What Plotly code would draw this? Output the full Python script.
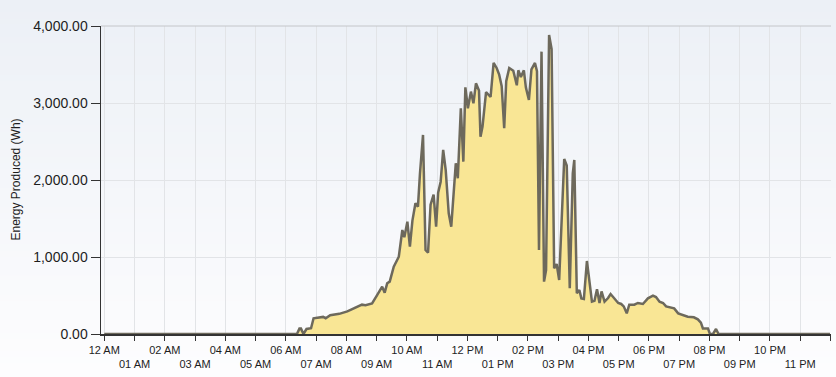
import plotly.graph_objects as go

day = "2024-06-01"

times = [
    "00:00", "06:22", "06:27", "06:30", "06:35", "06:41", "06:50", "06:55",
    "07:14", "07:19", "07:28", "07:46", "08:02", "08:18", "08:31", "08:38",
    "08:49", "08:51", "09:01", "09:11", "09:16", "09:21", "09:26", "09:34",
    "09:44", "09:51", "09:55", "10:01", "10:06", "10:11", "10:17", "10:22",
    "10:26", "10:32", "10:37", "10:42", "10:47", "10:53", "10:58", "11:02",
    "11:07", "11:12", "11:17", "11:23", "11:28", "11:32", "11:37", "11:41",
    "11:47", "11:52", "11:56", "12:01", "12:07", "12:12", "12:17", "12:23",
    "12:26", "12:30", "12:37", "12:46", "12:52", "12:58", "13:03", "13:08",
    "13:13", "13:17", "13:23", "13:31", "13:38", "13:41", "13:46", "13:52",
    "13:56", "14:02", "14:07", "14:14", "14:18", "14:22", "14:27", "14:32",
    "14:36", "14:42", "14:47", "14:52", "14:57", "15:02", "15:12", "15:17",
    "15:23", "15:29", "15:32", "15:37", "15:42", "15:46", "15:51", "15:57",
    "16:02", "16:07", "16:12", "16:17", "16:22", "16:26", "16:32", "16:39",
    "16:44", "16:51", "16:59", "17:05", "17:10", "17:16", "17:21", "17:31",
    "17:38", "17:48", "17:58", "18:08", "18:14", "18:21", "18:28", "18:34",
    "18:44", "18:50", "18:58", "19:07", "19:17", "19:29", "19:37", "19:43",
    "19:47", "19:57", "20:01", "20:07", "20:13", "20:18", "23:59",
]

energy_wh = [
    0, 0, 70, 70, 0, 65, 75, 204,
    222, 205, 245, 262, 294, 338, 381, 375,
    390, 398, 506, 614, 537, 658, 680, 874,
    1004, 1351, 1256, 1459, 1134, 1472, 1697, 1654,
    2087, 2585, 1091, 1056, 1680, 1810, 1394, 1836,
    1978, 2390, 2130, 1568, 1394, 1740, 2217, 2022,
    2932, 2238, 3204, 2932, 3148, 2997, 3256, 3161,
    2563, 2694, 3140, 3078, 3520, 3455, 3369, 3217,
    2672, 3282, 3455, 3420, 3230, 3425, 3338, 3425,
    3200, 3040, 3436, 3520, 3412, 1091, 3667, 680,
    831, 3884, 3700, 853, 909, 702, 2273, 2187,
    593, 2087, 2260, 529, 572, 463, 455, 948,
    658, 420, 430, 580, 403, 554, 420, 467,
    519, 463, 403, 390, 359, 268, 381, 381,
    403, 390, 463, 498, 480, 420, 403, 359,
    346, 333, 268, 247, 225, 217, 190, 147,
    73, 73, 0, 0, 65, 0, 0,
]

hour_ticks = [f"{day} {h:02d}:00" for h in range(24)] + ["2024-06-02 00:00"]
hour_labels = ["12 AM"] + [f"{h:02d} AM" for h in range(1, 12)] + ["12 PM"] + [f"{h:02d} PM" for h in range(1, 12)] + [""]
tick_text = [lab if i % 2 == 0 else "<br>" + lab for i, lab in enumerate(hour_labels)]

y_ticks = [0, 1000, 2000, 3000, 4000]
y_labels = ["0.00", "1,000.00", "2,000.00", "3,000.00", "4,000.00"]

x = [f"{day} {t}" for t in times]

W, H = 836, 377
L, R, T, B = 101, 5, 26, 43
pw, ph = W - L - R, H - T - B

fig = go.Figure()
fig.add_trace(go.Scatter(
    x=x, y=energy_wh, mode="lines", fill="tozeroy",
    line=dict(color="#6d695c", width=2.5),
    fillcolor="#f9e695", hoverinfo="skip", showlegend=False,
))

# background vertical gradient
shapes = []
n = 60
top_c = (236, 240, 246)
bot_c = (253, 253, 254)
y_lo = -B / ph
y_hi = 1 + T / ph
for i in range(n):
    f = i / (n - 1)
    c = tuple(round(top_c[k] + (bot_c[k] - top_c[k]) * f) for k in range(3))
    y1 = y_hi - (y_hi - y_lo) * i / n
    y0 = y_hi - (y_hi - y_lo) * (i + 1) / n
    shapes.append(dict(type="rect", xref="paper", yref="paper",
                       x0=-L / pw - 0.01, x1=1 + R / pw + 0.01, y0=y0 - 0.002, y1=y1 + 0.002,
                       fillcolor=f"rgb{c}", line=dict(width=0), layer="below"))
shapes.append(dict(type="line", xref="paper", yref="paper", x0=0, x1=1, y0=1, y1=1,
                   line=dict(color="#c4c6c9", width=1), layer="above"))

fig.update_layout(
    width=W, height=H,
    margin=dict(l=L, r=R, t=T, b=B),
    paper_bgcolor="#f4f6f9", plot_bgcolor="rgba(0,0,0,0)",
    shapes=shapes,
    font=dict(family="Liberation Sans, Arial, sans-serif", color="#1e1e1e"),
    xaxis=dict(
        type="date",
        range=["2024-05-31 23:53:30", "2024-06-02 00:01:00"],
        tickmode="array", tickvals=hour_ticks, ticktext=tick_text,
        tickangle=0,
        ticks="outside", ticklen=5, tickcolor="#333", tickwidth=1,
        tickfont=dict(size=11, color="#1e1e1e"),
        showgrid=True, gridcolor="#e2e4e7", gridwidth=1,
        showline=True, linecolor="#333", linewidth=1.5,
        zeroline=False, fixedrange=True,
    ),
    yaxis=dict(
        range=[0, 4000],
        tickmode="array", tickvals=y_ticks, ticktext=y_labels,
        ticks="outside", ticklen=9, tickcolor="#333", tickwidth=1,
        tickfont=dict(size=14, color="#1e1e1e"),
        showgrid=True, gridcolor="#e2e4e7", gridwidth=1,
        showline=True, linecolor="#333", linewidth=1.5,
        zeroline=False, fixedrange=True,
    ),
    annotations=[dict(
        text="Energy Produced (Wh)", textangle=-90,
        xref="paper", yref="paper", x=(15.5 - L) / pw, y=0.5,
        xanchor="center", yanchor="middle", showarrow=False,
        font=dict(size=12, color="#1e1e1e"),
    )],
)

fig.write_html(
    "out.html",
    config={"displayModeBar": False, "staticPlot": True},
    post_script="document.body.style.margin='0';document.body.style.background='#eef1f6';",
)
